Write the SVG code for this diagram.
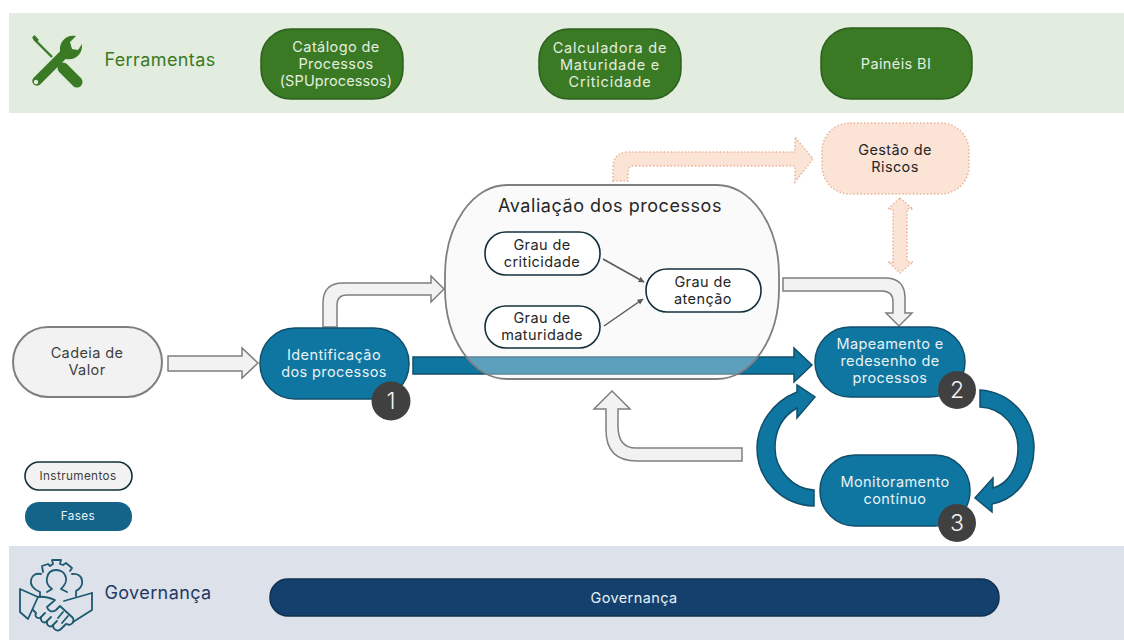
<svg xmlns="http://www.w3.org/2000/svg" width="1124" height="640" viewBox="0 0 1124 640">
<style>
text{font-family:"Inter","Open Sans","Liberation Sans",sans-serif;text-anchor:middle;font-size:14.5px;letter-spacing:.4px}
.g{fill:#3a7a24;stroke:#2c5f1e;stroke-width:1.5}
.gt{fill:#e4eee0}
.b{fill:#0e76a1;stroke:#114f6b;stroke-width:1.5}
.bt{fill:#e8f2f6}
.i{fill:#f2f2f2;stroke:#7f7f7f;stroke-width:2}
.w{fill:#fff;stroke:#14303c;stroke-width:1.6}
.d{fill:#404040}
.dt{fill:#404040}
.n{fill:#262626}
.p{fill:#fbe3d6;stroke:#e8b49a;stroke-width:1.5;stroke-dasharray:1.5 2}
.num{font-size:23px;fill:#f2f2f2;letter-spacing:0;font-weight:300}
.thin{stroke:#595959;stroke-width:1.5;fill:none;marker-end:url(#ah)}
</style>
<defs><marker id="ah" markerWidth="7" markerHeight="7" refX="5.5" refY="3" orient="auto" markerUnits="userSpaceOnUse"><path d="M0 0L6 3L0 6Z" fill="#595959"/></marker></defs>
<rect width="1124" height="640" fill="#fff"/>
<rect id="band-ferramentas" x="9" y="13" width="1115" height="100" fill="#e2ecdf"/>
<rect id="band-governanca" x="9" y="546" width="1115" height="94" fill="#dde1ea"/>

<g id="icon-ferramentas">
<path d="M34 39L52 57" stroke="#3a7a24" stroke-width="2.4" fill="none"/>
<path d="M32 37.5L34.5 35L39 40L36 42.500Z" fill="#3a7a24"/>
<path d="M63 68L77 82" stroke="#3a7a24" stroke-width="11" stroke-linecap="round" fill="none"/>
<path d="M37 81L65 53" stroke="#3a7a24" stroke-width="9.500" stroke-linecap="round" fill="none"/>
<path d="M60 51C59 42 66 34 76 36L70 42L72 49L78 50L82 44C83 54 75 61 66 59Z" fill="#3a7a24"/>
<circle cx="36" cy="82" r="2.200" fill="#e2ecdf"/>
<text x="160" y="66" style="font-size:18px" fill="#3a7a24">Ferramentas</text>
</g>

<g id="connectors">
<path id="c-cadeia" class="i" style="stroke-width:1.5" d="M168 356H242V348L258 363L242 378V371H168Z"/>
<path id="c-ident-aval" class="i" style="stroke-width:1.5" d="M323 327V303Q323 283 343 283H431V276L444 289L431 302V295H347Q337 295 337 305V327Z"/>
<path id="c-blue" class="b" d="M413 357H794V348L812 365L794 382V374H413Z"/>
<path id="c-riscos" class="p" d="M613 181V168Q613 152 629 152H795V137L813 159L795 182V166H634Q628 166 628 172V181Z"/>
<path id="c-riscos-map" class="p" d="M900 198L913 209H907V262H913L900 273L888 262H893V209H888Z"/>
<path id="c-aval-map" class="i" style="stroke-width:1.5" d="M783 278H885Q905 278 905 298V313H912L899 326L886 313H893V302Q893 291 882 291H783Z"/>
<path id="c-retorno" class="i" style="stroke-width:1.5" d="M742 448H636Q618 448 618 426V409H630L612 391L594 409H606V430Q606 461 637 461H742Z"/>
<path id="c-map-mon" class="b" d="M980 390C1012 392 1034 420 1034 448C1034 478 1015 500 992 504L992 512L975 498L993 478L993 488C1008 484 1018 468 1018 448C1018 428 1004 408 980 407Z"/>
<path id="c-mon-map" class="b" d="M814 490C793 489 775 470 775 448C775 430 783 416 797 408L797 418L815 397L797 385L797 392C772 402 757 425 757 448C757 480 782 505 814 506Z"/>
</g>

<g id="node-catalogo"><rect class="g" x="261" y="29" width="142" height="70" rx="30"/><text class="gt" x="336" y="52">Catálogo de</text><text class="gt" x="336" y="69">Processos</text><text class="gt" x="336" y="86" style="letter-spacing:.1px">(SPUprocessos)</text></g>
<g id="node-calculadora"><rect class="g" x="539" y="29" width="142" height="70" rx="30"/><text class="gt" x="610" y="53" style="letter-spacing:.8px">Calculadora de</text><text class="gt" x="610" y="70" style="letter-spacing:.8px">Maturidade e</text><text class="gt" x="610" y="87" style="letter-spacing:.8px">Criticidade</text></g>
<g id="node-paineis"><rect class="g" x="821" y="28" width="151" height="71" rx="30"/><text class="gt" x="896" y="69">Painéis BI</text></g>
<g id="node-riscos"><rect class="p" x="822" y="123" width="147" height="71" rx="28"/><text class="n" x="895" y="155">Gestão de</text><text class="n" x="895" y="172">Riscos</text></g>

<g id="node-cadeia"><rect class="i" x="13" y="327" width="149" height="70" rx="35"/><text class="dt" x="87" y="358">Cadeia de</text><text class="dt" x="87" y="375">Valor</text></g>
<g id="node-identificacao"><rect class="b" x="260" y="328" width="149" height="71" rx="35"/><text class="bt" x="334" y="360">Identificação</text><text class="bt" x="334" y="377">dos processos</text><circle class="d" cx="391" cy="401" r="19.5"/><text class="num" x="391" y="409">1</text></g>

<g id="node-avaliacao"><rect x="445" y="185" width="334" height="194" rx="62" ry="90" fill="#f2f2f2" fill-opacity=".35" stroke="#7f7f7f" stroke-width="1.8"/><text class="n" x="610" y="212" style="font-size:18px;letter-spacing:.55px">Avaliação dos processos</text></g>
<g id="connectors-avaliacao"><path class="thin" d="M603 259L644 282"/><path class="thin" d="M604 326L643 299"/></g>
<g id="node-criticidade"><rect class="w" x="485" y="232" width="115" height="43" rx="21"/><text class="n" x="542" y="250">Grau de</text><text class="n" x="542" y="267">criticidade</text></g>
<g id="node-maturidade"><rect class="w" x="485" y="306" width="115" height="42" rx="21"/><text class="n" x="542" y="323">Grau de</text><text class="n" x="542" y="340">maturidade</text></g>
<g id="node-atencao"><rect class="w" x="646" y="269" width="115" height="43" rx="21"/><text class="n" x="703" y="287">Grau de</text><text class="n" x="703" y="304">atenção</text></g>

<g id="node-mapeamento"><rect class="b" x="815" y="327" width="150" height="70" rx="35"/><text class="bt" x="890" y="349">Mapeamento e</text><text class="bt" x="890" y="366">redesenho de</text><text class="bt" x="890" y="383">processos</text><circle class="d" cx="957" cy="390" r="19"/><text class="num" x="957" y="398">2</text></g>
<g id="node-monitoramento"><rect class="b" x="820" y="455" width="150" height="71" rx="35"/><text class="bt" x="895" y="487">Monitoramento</text><text class="bt" x="895" y="504">contínuo</text><circle class="d" cx="957" cy="523" r="19"/><text class="num" x="957" y="531">3</text></g>

<g id="legend-instrumentos"><rect x="25" y="462" width="107" height="28" rx="14" fill="#f2f2f2" stroke="#14303c" stroke-width="1.6"/><text class="dt" x="78" y="480" style="font-size:11.7px">Instrumentos</text></g>
<g id="legend-fases"><rect x="25" y="502" width="107" height="29" rx="14" fill="#14648a"/><text class="bt" x="78" y="520" style="font-size:11.7px">Fases</text></g>

<g id="icon-governanca" fill="none" stroke="#1b5a70" stroke-width="1.8" stroke-linejoin="round" stroke-linecap="round">
<path d="M43 572L42 566L48 564L50 566L53 564L52 560H61L60 564L63 565L66 563L72 568L70 571"/>
<path d="M47 592L52 589C48 586 46 582 47 578C48 572 52 570 56 570C60 570 65 572 66 578C67 582 64 586 61 589L67 592"/>
<path d="M40 597V592C33 589 30 585 31 580C32 575 36 573 41 574"/>
<path d="M72 574C77 573 82 576 82 581C83 585 80 589 76 591V596"/>
<path d="M20 589L38 597L28 619L20 612Z"/>
<path d="M92 593V610L73 622"/>
<path d="M38 597C44 596 50 598 55 600L47 607C48 611 52 613 56 610L60 606L73 618C75 623 70 626 67 624M64 601L92 593"/>
<path d="M33 610L36 613C34 617 39 620 41 617C40 622 45 624 47 621C46 626 51 628 53 625C53 630 58 632 61 629L66 624"/>
<path d="M41 617L45 613M47 621L51 617M53 625L57 621M63 612L58 618M68 616L62 623"/>
</g>
<text x="158" y="599" fill="#1f3864" style="font-size:18px">Governança</text>
<g id="node-governanca"><rect x="270" y="579" width="729" height="37" rx="18" fill="#14406e" stroke="#10304f" stroke-width="1.5"/><text class="bt" x="634" y="603">Governança</text></g>
</svg>
